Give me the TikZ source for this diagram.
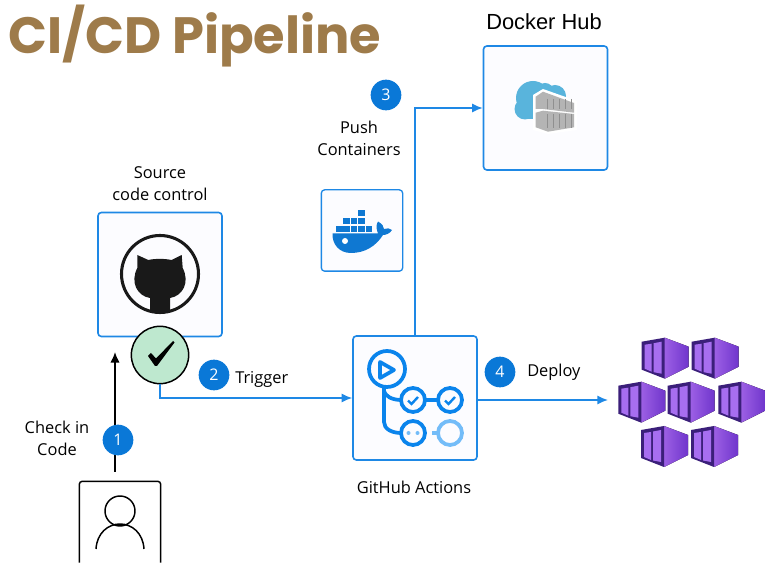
\documentclass[tikz,border=0pt]{standalone}
\usepackage{fontspec}
\setmainfont{Open Sans}
\newfontfamily\titlefont{Poppins}
\newfontfamily\hubfont{Liberation Sans}
\usetikzlibrary{arrows.meta, positioning}
\definecolor{flowblue}{HTML}{1E88E5}
\definecolor{badgeblue}{HTML}{0A78D7}
\definecolor{iconblue}{HTML}{0A84EC}
\definecolor{iconlight}{HTML}{73BCF8}
\definecolor{whaleblue}{HTML}{0F78D2}
\definecolor{titlebrown}{HTML}{9E7B4A}
\definecolor{checkgreen}{HTML}{BEE8CF}
\definecolor{cloudblue}{HTML}{59B4DC}
\definecolor{boxgrey}{HTML}{B4B4B4}
\definecolor{boxdark}{HTML}{8F8F8F}
\definecolor{podframe}{HTML}{3B1F7A}
\definecolor{podpane}{HTML}{A76EF0}
\definecolor{podleft}{HTML}{9C5FE4}
\definecolor{podright}{HTML}{6F35CC}

\begin{document}
\begin{tikzpicture}[x=0.75pt, y=-0.75pt,
            stage/.style={draw=flowblue, line width=1.2pt, rounded corners=2.5pt, fill=blue!1,
                minimum size=93pt, inner sep=0pt},
            badge/.style={circle, fill=badgeblue, text=white, minimum size=23pt, inner sep=0pt,
                font=\fontsize{12}{14}\selectfont},
            lbl/.style={align=center, inner sep=0pt, font=\fontsize{12.3}{16.5}\selectfont},
            flow/.style={draw=flowblue, line width=1.2pt, -{Latex[length=8pt, width=7pt]}},
            action/.style={draw=iconblue, line width=2.8pt}]
    \useasboundingbox (0,0) rectangle (765,566);

    \node[anchor=west, inner sep=0pt, text=titlebrown,
        font=\titlefont\bfseries\fontsize{38.3}{40}\selectfont] (title) at (8,36) {CI/CD Pipeline};

    % boxes
    \node[stage] (src) at (160,274.5) {};
    \node[stage] (actions) at (415,398) {};
    \node[stage] (hub) at (545.5,108) {};
    \node[stage, minimum size=61pt, line width=1pt] (docker) at (362,230.5) {};
    \node[minimum size=60.5pt, inner sep=0pt] (person) at (120,522) {};
    \draw[line width=1.1pt, rounded corners=2pt] (person.south west) -- (person.north west)
        -- (person.north east) -- (person.south east);
    \node[circle, draw, fill=checkgreen, line width=1.1pt, minimum size=43pt, inner sep=0pt]
        (check) at (160,355) {};

    % free ends
    \coordinate (chkin) at (115,472);
    \coordinate (srctip) at (115,352);
    \coordinate (deptip) at (608,400);

    \draw[line width=1.1pt, -{Latex[length=8pt, width=7pt]}] (chkin) -- (srctip);
    \draw[flow] (check.south) |- (actions.west);
    \draw[flow] (actions.north) |- (hub.west);
    \draw[flow] (actions.east |- deptip) -- (deptip);

    \node[badge] (b1) at (118,440) {1};
    \node[badge] (b2) at (214,375) {2};
    \node[badge] (b3) at (386,95) {3};
    \node[badge] (b4) at (500,372) {4};

    \node[lbl] (lcheck) at (57,438.5) {Check in\\Code};
    \node[lbl] (lsrc) at (160,184) {Source\\code control};
    \node[lbl] (lpush) at (359,138) {Push\\Containers};
    \node[lbl, anchor=west] (ltrig) at (235,379.5) {Trigger};
    \node[lbl, anchor=west] (ldep) at (527,372) {Deploy};
    \node[lbl] (lact) at (414,487.5) {GitHub Actions};
    \node[inner sep=0pt, font=\hubfont\fontsize{16.4}{18}\selectfont] (lhub) at (544,22) {Docker Hub};

    % check mark
    \fill (148,356) -- (151,353) -- (156,358.5) -- (173,341) -- (174.5,342.5) -- (157,366) -- (155,366) -- cycle;

    % person
    \draw[line width=1.1pt] (120,511) circle [radius=15];
    \draw[line width=1.1pt] (96,549) .. controls (97,533) and (108,524) .. (120,524)
        .. controls (132,524) and (143,533) .. (144,549);

    % github
    \draw[line width=2.3pt, black!90] (160,274) circle [radius=38.5];
    \fill[black!90] (137.3,255) -- (148.3,260) .. controls (155,258.5) and (164,258.5) .. (171.7,260)
        -- (181.7,255) -- (182.7,268) .. controls (190,282) and (183,296) .. (170,298)
        -- (170,310.5) .. controls (164,312) and (156,312) .. (150,310.5) -- (150,298)
        .. controls (137,296) and (130,282) .. (137.3,268) -- cycle;

    % actions
    \draw[action] (387,369) circle [radius=18];
    \draw[action, line join=round] (380,362) -- (394,370) -- (380,378) -- cycle;
    \draw[action] (384,388) -- (384,422) .. controls (384,429) and (392,433) .. (401,433);
    \draw[action] (384,391) .. controls (385,396) and (392,400) .. (401,400);
    \draw[action] (413,400) circle [radius=12];
    \draw[action] (450,400) circle [radius=12];
    \draw[action] (425,400) -- (438,400);
    \draw[action] (413,433) circle [radius=12];
    \draw[action, iconlight] (450,433) circle [radius=12];
    \draw[action, iconlight] (432,433) -- (438,433);
    \foreach \cx in {413,450} {
        \draw[draw=iconblue, line width=1.8pt] (\cx-5,400.5) -- (\cx-1.5,404) -- (\cx+5,397);
    }
    \fill[iconlight] (408.5,433) circle [radius=2] (417.5,433) circle [radius=2];

    % whale
    \foreach \cx/\cy in {336/225.7, 343.4/225.7, 350.8/225.7, 358.2/225.7, 365.6/225.7,
            343.4/218, 350.8/218, 358.2/218, 358.2/210} {
        \fill[whaleblue] (\cx,\cy) rectangle ++(6.5,6.5);
    }
    \fill[whaleblue] (332.5,233.5) -- (378,233.5) .. controls (376,228) and (376,225) .. (378,221.5)
        .. controls (382,224) and (384,226) .. (384,229) .. controls (387,228) and (390,228) .. (392,230)
        .. controls (390,233.5) and (386,235) .. (383,235)
        .. controls (376,246) and (365,253) .. (351,253)
        .. controls (339,253) and (332,244) .. (332.5,233.5) -- cycle;
    \fill[white] (345,241) circle [radius=3];

    % cloud and stacked boxes
    \fill[cloudblue] (533,98) circle [radius=17] (525,109) circle [radius=10.5]
        (555,96) circle [radius=11] (545,92) circle [radius=9];
    \fill[cloudblue] (525,105) rectangle (560,119.5);
    \fill[white] (533,95) -- (543,89) -- (577,101) -- (577,130) -- (548,134) -- (533,130) -- cycle;
    \fill[boxgrey] (535.7,96.7) -- (543,91.7) -- (574,103) -- (574,112.7) -- (543,109) -- (535.7,109) -- cycle;
    \fill[boxgrey] (535.7,112.7) -- (543,110.7) -- (574,114) -- (574,127.3) -- (548,131.7) -- (535.7,127.3) -- cycle;
    \foreach \cx in {547,553,559,565,571} {
        \draw[boxdark, line width=0.7pt] (\cx,99) -- (\cx,109);
        \draw[boxdark, line width=0.7pt] (\cx,114) -- (\cx,128);
    }

    % containers on the right
    \foreach \cx/\cy in {641.7/337.7, 691.7/337.7, 618.3/381.7, 667.7/381.7, 718.3/381.7, 641/426, 691/426} {
        \begin{scope}[shift={(\cx,\cy)}]
            \fill[left color=podleft, right color=podright] (23,0) -- (47,9) -- (47,29) -- (23,41) -- cycle;
            \fill[podframe] (0,4) -- (23,0) -- (23,41) -- (0,32) -- cycle;
            \fill[podpane] (3,7) -- (10,6) -- (10,34) -- (3,31) -- cycle;
            \fill[podpane] (12,5.5) -- (20,4) -- (20,36) -- (12,34.5) -- cycle;
        \end{scope}
    }
\end{tikzpicture}
\end{document}
